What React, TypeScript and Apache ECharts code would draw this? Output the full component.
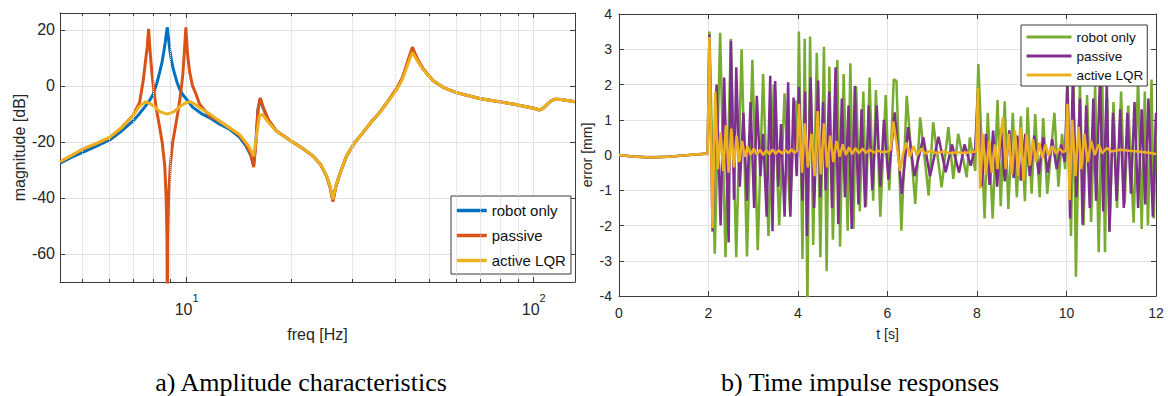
import React, { useEffect, useRef } from 'react';
import * as echarts from 'echarts';

// ---------- a) Amplitude characteristics: [freq Hz, magnitude dB] ----------
const ampRobotOnly: [number, number][] = [
  [4.32, -27.6], [4.7, -25.3], [5, -23.8], [5.5, -21.5], [6, -19.3], [6.5, -16.1], [7, -12.6], [7.25, -10.5],
  [7.5, -8.2], [7.75, -6], [8, -3.2], [8.2, 0.8], [8.36, 4.8], [8.5, 8.6], [8.59, 12], [8.68, 15.6], [8.75, 19.1],
  [8.8, 20.9], [8.87, 16.7], [8.95, 12.6], [9.03, 9.5], [9.13, 6.6], [9.24, 4.2], [9.38, 1.3], [9.55, -1.2],
  [9.75, -3.2], [10, -4.8], [10.4, -7.6], [11, -9.8], [11.65, -11.4], [12.45, -13.7], [13.3, -15.5], [14.2, -18.3],
  [14.8, -21.3], [15.3, -24.8], [15.6, -28.2], [15.85, -19], [16.05, -8.5], [16.3, -4.6], [16.6, -7.8],
  [17.2, -12.3], [18.1, -16], [20, -19.7], [21.5, -22.2], [23.1, -25], [24.3, -28], [25.3, -32.2], [25.9, -36],
  [26.4, -41], [26.9, -36], [27.7, -31], [28.9, -25], [30.4, -20.5], [32.2, -16.7], [34, -13], [36, -9.5],
  [38, -5.5], [40.2, -1.3], [41.8, 2.6], [43, 7], [44.7, 13.1], [46.3, 9], [48, 6], [51.3, 1.8], [55, -0.6],
  [59.9, -2.4], [69.8, -4.5], [87.1, -6.5], [100, -8], [104, -8.6], [106.5, -8], [108.8, -6.9], [112, -5.4],
  [115, -4.8], [120, -4.9], [125, -5.2], [131.5, -5.7],
];
const ampPassive: [number, number][] = [
  [4.32, -27.1], [4.7, -24.6], [5, -22.8], [5.5, -20.6], [6, -18.5], [6.5, -14.9], [7, -10.6], [7.32, -5.9],
  [7.5, 2], [7.6, 8], [7.7, 14], [7.77, 20.3], [7.85, 12], [7.95, 4], [8.05, -2], [8.2, -9], [8.36, -14.7],
  [8.5, -20], [8.65, -28.6], [8.73, -40], [8.78, -55], [8.8, -95], [8.82, -55], [8.87, -40], [8.97, -28.6],
  [9.12, -20], [9.28, -14.7], [9.45, -9], [9.62, -2.4], [9.75, 4], [9.85, 12], [9.95, 20.9], [10.05, 12],
  [10.2, 5], [10.4, 0], [10.6, -2.4], [10.9, -6.6], [11.65, -10.8], [12.45, -12.6], [13.3, -15], [14.2, -17.7],
  [14.8, -20.6], [15.3, -24.5], [15.6, -29], [15.85, -20], [16.05, -8.5], [16.3, -4.3], [16.6, -7.5],
  [17.2, -12], [18.1, -16], [20, -19.7], [21.5, -22.2], [23.1, -25], [24.3, -28], [25.3, -32.2], [25.9, -36.2],
  [26.4, -41.3], [26.9, -36], [27.7, -31], [28.9, -25], [30.4, -20.5], [32.2, -16.7], [34, -13], [36, -9.5],
  [38, -5.5], [40.2, -1.1], [41.8, 2.8], [43, 7.5], [44.7, 13.8], [46.3, 9.5], [48, 6.1], [51.3, 1.8],
  [55, -0.6], [59.9, -2.4], [69.8, -4.5], [87.1, -6.5], [100, -8], [104, -8.6], [106.5, -8], [108.8, -6.9],
  [112, -5.4], [115, -4.8], [120, -4.9], [125, -5.2], [131.5, -5.7],
];
const ampActiveLqr: [number, number][] = [
  [4.32, -27.1], [4.7, -24.6], [5, -22.6], [5.5, -20.5], [6, -18.4], [6.5, -14.9], [7, -10.7], [7.3, -7.4],
  [7.62, -5.7], [7.85, -6.3], [8.1, -7.6], [8.4, -9.3], [8.8, -10.1], [9.2, -9.2], [9.6, -7.2], [10, -5.9],
  [10.27, -5.7], [10.55, -6.5], [10.9, -7.8], [11.65, -10], [12.45, -12.6], [13.3, -15], [14.2, -17.3],
  [15.1, -21.5], [15.6, -25.1], [15.9, -18], [16.2, -10.8], [16.5, -10.1], [17.2, -13], [18.1, -16.1],
  [20, -19.7], [21.5, -22.2], [23.1, -25], [24.3, -28], [25.3, -32], [25.9, -35.8], [26.4, -40.5], [26.9, -35.8],
  [27.7, -31], [28.9, -25], [30.4, -20.5], [32.2, -16.7], [34, -13], [36, -9.6], [38, -5.6], [40.2, -1.6],
  [41.8, 2.2], [43, 6.4], [44.7, 12], [46.3, 8.8], [48, 5.8], [51.3, 1.8], [55, -0.6], [59.9, -2.4],
  [69.8, -4.5], [87.1, -6.5], [100, -8], [104, -8.6], [106.5, -8], [108.8, -6.9], [112, -5.4], [115, -4.8],
  [120, -4.9], [125, -5.2], [131.5, -5.7],
];
const minorFreqs = [5, 6, 7, 8, 9, 20, 30, 40, 50, 60, 70, 80, 90];

// ---------- b) Time impulse responses: [t s, error mm] ----------
const respRobotOnly: [number, number][] = [
  [0, 0], [0.3, -0.04], [0.7, -0.07], [1.1, -0.05], [1.5, -0.01], [1.98, 0.04],
  [2.02, 3.5], [2.14, -2.8], [2.26, 3.47], [2.38, -2.9], [2.5, 3.3], [2.62, -2.9], [2.74, 3.0], [2.86, -2.88],
  [2.98, 2.7], [3.1, -2.7], [3.22, 2.3], [3.34, -2.3], [3.46, 2.0], [3.58, -2.0], [3.7, 1.75], [3.82, -1.6],
  [3.94, 1.55], [3.99, 0.2],
  [4.02, 3.5], [4.1, -2.95], [4.15, 3.3], [4.21, -4.3], [4.27, 3.36], [4.34, -2.55], [4.42, 2.9], [4.5, -2.9],
  [4.58, 3.07], [4.64, -3.3], [4.7, 2.5], [4.78, -2.4], [4.88, 2.7], [4.94, -2.6], [5.02, 2.3], [5.11, -2.15],
  [5.17, 2.6], [5.24, -2.1], [5.3, 1.95], [5.38, -1.6], [5.46, 1.8], [5.52, -1.45], [5.6, 2.2], [5.68, -1.3],
  [5.74, 1.84], [5.84, -1.75], [5.96, 1.7], [6.04, -1.0], [6.14, 2.15], [6.2, 2.1], [6.31, -2.15], [6.43, 1.68],
  [6.62, -1.39], [6.73, 1.07], [6.92, -1.15], [7.02, 0.93], [7.21, -0.92], [7.36, 0.79], [7.47, -0.68],
  [7.58, 0.6], [7.77, -0.63], [7.84, 0.5], [7.96, -0.45],
  [8.03, 2.58], [8.17, -1.8], [8.24, 1.2], [8.35, -1.8], [8.46, 1.56], [8.53, -1.45], [8.62, 1.52], [8.7, -1.53],
  [8.8, 1.2], [8.89, -1.2], [8.98, 1.1], [9.07, -1.31], [9.13, 1.35], [9.22, -1.1], [9.3, 1.16], [9.4, -1.2],
  [9.48, 1.05], [9.57, -1.1], [9.73, 1.2], [9.82, -0.9], [9.9, 0.6], [9.97, -0.4],
  [10.02, 2.3], [10.1, -2.3], [10.16, 2.0], [10.21, -3.45], [10.3, 2.06], [10.38, -2.0], [10.46, 1.7],
  [10.55, -1.9], [10.64, 1.97], [10.72, -2.76], [10.8, 2.1], [10.86, -2.76], [10.91, 1.6], [10.96, -2.16],
  [11.05, 1.5], [11.13, -1.5], [11.22, 1.8], [11.3, -1.4], [11.38, 1.4], [11.5, -1.92], [11.6, 2.18],
  [11.68, -2.1], [11.75, 1.8], [11.82, -2.0], [11.9, 2.14], [11.95, -1.8], [12.0, 0.8],
];
const respPassive: [number, number][] = [
  [0, 0], [0.3, -0.04], [0.7, -0.07], [1.1, -0.05], [1.5, -0.01], [1.98, 0.04],
  [2.02, 3.42], [2.09, -2.17], [2.18, 2.0], [2.27, -2.0], [2.35, 2.2], [2.45, -2.48], [2.5, 3.24], [2.57, -1.27],
  [2.62, 2.49], [2.7, -0.9], [2.78, 1.2], [2.86, -1.3], [2.94, 1.5], [3.02, -1.5], [3.08, 1.68], [3.16, -0.6],
  [3.22, 0.6], [3.3, -1.75], [3.38, 2.25], [3.43, -2.16], [3.49, 2.1], [3.56, -0.9], [3.62, 0.88], [3.7, -1.75],
  [3.78, 2.06], [3.83, -1.75], [3.9, 1.63], [3.97, -0.6],
  [4.02, 1.93], [4.1, -1.3], [4.16, 1.8], [4.2, -2.3], [4.28, 2.2], [4.36, -1.5], [4.45, 2.11], [4.5, -1.2],
  [4.56, 1.5], [4.62, -1.0], [4.7, 1.8], [4.76, -1.5], [4.84, 2.49], [4.9, -1.96], [4.98, 1.6], [5.05, -1.2],
  [5.13, 1.4], [5.2, -2.1], [5.27, 1.96], [5.35, -1.4], [5.42, 1.3], [5.5, -1.49], [5.58, 1.4], [5.66, -1.0],
  [5.76, 1.4], [5.84, -0.9], [5.92, 1.0], [6.02, -0.7], [6.16, 1.21], [6.32, -1.1], [6.46, 0.79], [6.6, -0.6],
  [6.8, 0.5], [6.95, -0.6], [7.14, 0.52], [7.3, -0.49], [7.44, 0.3], [7.6, -0.5], [7.72, 0.3], [7.86, -0.3],
  [7.96, 0.2],
  [8.02, 1.75], [8.1, -0.9], [8.2, 0.6], [8.28, -0.85], [8.36, 0.69], [8.45, -0.9], [8.54, 0.75], [8.62, -0.75],
  [8.72, 0.7], [8.82, -0.65], [8.9, 0.55], [8.98, -0.73], [9.08, 0.6], [9.18, -0.6], [9.28, 0.55], [9.38, -0.55],
  [9.48, 0.5], [9.58, -0.5], [9.68, 0.45], [9.78, -0.4], [9.88, 0.3], [9.96, -0.2],
  [10.02, 2.0], [10.08, -1.8], [10.14, 2.2], [10.22, -1.2], [10.3, 1.6], [10.36, -1.98], [10.44, 1.4],
  [10.52, -1.5], [10.6, 1.6], [10.66, -1.3], [10.75, 2.29], [10.82, -1.6], [10.9, 2.0], [10.96, -2.18],
  [11.04, 1.2], [11.12, -1.3], [11.2, 1.3], [11.28, -1.5], [11.36, 1.2], [11.44, -1.1], [11.52, 1.5],
  [11.6, -1.5], [11.68, 1.3], [11.76, -1.4], [11.83, 1.6], [11.93, -1.75], [12.0, 1.2],
];
const respActiveLqr: [number, number][] = [
  [0, 0], [0.3, -0.04], [0.7, -0.07], [1.1, -0.05], [1.5, -0.01], [1.98, 0.04],
  [2.02, 3.35], [2.09, -2.08], [2.15, 1.8], [2.21, -0.4], [2.27, 0.65], [2.33, -0.45], [2.39, 0.85], [2.45, -0.5],
  [2.51, 0.75], [2.57, -0.35], [2.63, 0.55], [2.69, -0.2], [2.75, 0.4], [2.81, -0.05], [2.87, 0.25], [2.94, 0.0],
  [3.01, 0.18], [3.08, 0.02], [3.15, 0.15], [3.22, 0.0], [3.29, 0.14], [3.36, 0.02], [3.43, 0.16], [3.5, 0.03],
  [3.57, 0.14], [3.64, 0.04], [3.71, 0.15], [3.78, 0.05], [3.85, 0.16], [3.92, 0.06], [3.98, 0.12],
  [4.02, 1.45], [4.09, -0.5], [4.15, 0.9], [4.22, -0.35], [4.3, 0.6], [4.37, -0.6], [4.44, 1.25], [4.51, -0.55],
  [4.58, 0.9], [4.65, -0.35], [4.72, 0.55], [4.79, -0.2], [4.86, 0.4], [4.93, -0.05], [5.0, 0.3], [5.07, 0.0],
  [5.14, 0.22], [5.21, 0.02], [5.28, 0.2], [5.36, 0.05], [5.44, 0.18], [5.52, 0.06], [5.6, 0.15], [5.7, 0.07],
  [5.8, 0.12], [5.9, 0.08], [6.0, 0.1], [6.07, 0.15],
  [6.13, 0.95], [6.2, 0.35], [6.28, -0.45], [6.35, 0.05], [6.42, 0.35], [6.5, -0.05], [6.58, 0.25], [6.66, 0.0],
  [6.75, 0.18], [6.85, 0.04], [6.95, 0.12], [7.1, 0.05], [7.25, 0.1], [7.4, 0.05], [7.55, 0.08], [7.7, 0.06],
  [7.85, 0.08], [7.98, 0.1],
  [8.02, 1.9], [8.07, -0.95], [8.13, 0.6], [8.2, -0.55], [8.27, 0.4], [8.33, -0.5], [8.4, 0.3], [8.46, -0.4],
  [8.52, 0.5], [8.58, 1.07], [8.64, -0.4], [8.71, 0.6], [8.78, -0.55], [8.85, 0.7], [8.92, -0.6], [8.98, 0.78],
  [9.04, -0.72], [9.11, 0.6], [9.18, -0.3], [9.25, 0.45], [9.32, -0.2], [9.39, 0.35], [9.46, -0.1], [9.53, 0.3],
  [9.6, -0.02], [9.68, 0.25], [9.76, 0.05], [9.84, 0.18], [9.92, 0.08], [9.98, 0.12],
  [10.02, 1.45], [10.07, -1.28], [10.13, 1.0], [10.2, -0.6], [10.27, 0.8], [10.33, -0.4], [10.4, 0.6],
  [10.47, -0.2], [10.55, 0.4], [10.63, 0.0], [10.72, 0.3], [10.8, 0.05], [10.9, 0.2], [11.0, 0.1], [11.2, 0.15],
  [11.4, 0.12], [11.6, 0.1], [11.8, 0.07], [12.0, 0.03],
];

const seriesNames = ['robot only', 'passive', 'active LQR'];
const captionA = 'a) Amplitude characteristics';
const captionB = 'b) Time impulse responses';

const FONT = '"Liberation Sans", Arial, Helvetica, sans-serif';
const SERIF = '"Liberation Serif", "Times New Roman", Times, serif';
const AX = '#3c3c3c';
const TXT = '#262626';
const GRID = '#e2e2e2';
const MINOR = '#d4d4d4';
const BLUE = '#0072BD', ORANGE = '#D95319', YELLOW = '#EDB120', GREEN = '#77AC30', PURPLE = '#7E2F8E';

const FMIN = 4.317, FMAX = 131.5, DBMIN = -70, DBMAX = 26;

export default function App() {
  const ref = useRef<HTMLDivElement>(null);
  useEffect(() => {
    if (!ref.current) return;
    const chart = echarts.init(ref.current, null, { renderer: 'svg' });

    const minorLines = minorFreqs.map((f) => ({ xAxis: f }));
    const minorTicks: any[] = [];
    minorFreqs.forEach((f) => {
      minorTicks.push([{ coord: [f, DBMIN] }, { coord: [f, DBMIN + 1.1] }]);
      minorTicks.push([{ coord: [f, DBMAX] }, { coord: [f, DBMAX - 1.1] }]);
    });

    const axisLineStyle = { show: true, onZero: false, lineStyle: { color: AX, width: 1 } };
    const hiddenAxisBase = {
      axisLine: axisLineStyle,
      axisTick: { show: true, inside: true, length: 5, lineStyle: { color: AX } },
      axisLabel: { show: false },
      splitLine: { show: false },
    };

    const legendItem = (name: string, color: string, width: number) => ({
      name, itemStyle: { color, opacity: 0 }, lineStyle: { color, width, type: 'solid' },
    });

    const lineSeries = (name: string, data: any, color: string, width: number, xi: number, yi: number) => ({
      name, type: 'line', xAxisIndex: xi, yAxisIndex: yi, data,
      symbol: 'none', showSymbol: false, lineStyle: { color, width }, itemStyle: { color }, z: 2,
    });

    const option: any = {
      animation: false,
      backgroundColor: '#fff',
      grid: [
        { left: 60, top: 13, width: 515, height: 269, containLabel: false, outerBoundsMode: 'none' },
        { left: 619, top: 14, width: 537, height: 282, containLabel: false, outerBoundsMode: 'none' },
      ],
      xAxis: [
        {
          gridIndex: 0, type: 'log', logBase: 10, min: FMIN, max: FMAX, position: 'bottom',
          axisLine: axisLineStyle,
          axisTick: { show: true, inside: true, length: 5, lineStyle: { color: AX } },
          splitLine: { show: true, lineStyle: { color: GRID, width: 1 } },
          axisLabel: {
            margin: 10,
            formatter: (v: number) => {
              const e = Math.log10(v);
              const r = Math.round(e);
              if (Math.abs(e - r) > 1e-6) return '';
              return `{b|10}{s|${r}}`;
            },
            rich: {
              b: { fontSize: 16, fontFamily: FONT, color: TXT, lineHeight: 25, verticalAlign: 'bottom' },
              s: { fontSize: 11, fontFamily: FONT, color: TXT, lineHeight: 11, verticalAlign: 'top' },
            },
          },
          name: 'freq [Hz]', nameLocation: 'middle', nameGap: 44,
          nameTextStyle: { fontSize: 16, fontFamily: FONT, color: TXT },
        },
        { gridIndex: 0, type: 'log', logBase: 10, min: FMIN, max: FMAX, position: 'top', ...hiddenAxisBase },
        {
          gridIndex: 1, type: 'value', min: 0, max: 12, interval: 2, position: 'bottom',
          axisLine: axisLineStyle,
          axisTick: { show: true, inside: true, length: 5, lineStyle: { color: AX } },
          splitLine: { show: true, lineStyle: { color: GRID, width: 1 } },
          axisLabel: { margin: 10, fontSize: 14, fontFamily: FONT, color: TXT },
          name: 't [s]', nameLocation: 'middle', nameGap: 31,
          nameTextStyle: { fontSize: 14, fontFamily: FONT, color: TXT },
        },
        { gridIndex: 1, type: 'value', min: 0, max: 12, interval: 2, position: 'top', ...hiddenAxisBase },
      ],
      yAxis: [
        {
          gridIndex: 0, type: 'value', min: DBMIN, max: DBMAX, position: 'left',
          axisLine: axisLineStyle,
          axisTick: { show: true, inside: true, length: 5, lineStyle: { color: AX } },
          splitLine: { show: true, lineStyle: { color: GRID, width: 1 } },
          axisLabel: {
            margin: 5, fontSize: 16, fontFamily: FONT, color: TXT,
            formatter: (v: number) => (Math.abs(v % 20) < 1e-9 && v > DBMIN && v < DBMAX ? String(v) : ''),
          },
          name: 'magnitude [dB]', nameLocation: 'middle', nameGap: 32,
          nameTextStyle: { fontSize: 16, fontFamily: FONT, color: TXT },
        },
        { gridIndex: 0, type: 'value', min: DBMIN, max: DBMAX, position: 'right', ...hiddenAxisBase },
        {
          gridIndex: 1, type: 'value', min: -4, max: 4, interval: 1, position: 'left',
          axisLine: axisLineStyle,
          axisTick: { show: true, inside: true, length: 5, lineStyle: { color: AX } },
          splitLine: { show: true, lineStyle: { color: GRID, width: 1 } },
          axisLabel: { margin: 7, fontSize: 14, fontFamily: FONT, color: TXT },
          name: 'error [mm]', nameLocation: 'middle', nameGap: 25,
          nameTextStyle: { fontSize: 14, fontFamily: FONT, color: TXT },
        },
        { gridIndex: 1, type: 'value', min: -4, max: 4, interval: 1, position: 'right', ...hiddenAxisBase },
      ],
      legend: [
        {
          data: [legendItem(seriesNames[0], BLUE, 3.5), legendItem(seriesNames[1], ORANGE, 3.5), legendItem(seriesNames[2], YELLOW, 3.5)],
          orient: 'vertical', left: 451, top: 196, itemWidth: 30, itemHeight: 14, itemGap: 10,
          padding: [7, 5, 6, 4], backgroundColor: '#fff', borderColor: '#3a3a3a', borderWidth: 1, borderRadius: 0,
          selectedMode: false,
          textStyle: { fontSize: 15, fontFamily: FONT, color: '#111' },
        },
        {
          data: [legendItem(seriesNames[0], GREEN, 3), legendItem(seriesNames[1], PURPLE, 3), legendItem(seriesNames[2], YELLOW, 3)],
          orient: 'vertical', left: 1021, top: 25, itemWidth: 45, itemHeight: 13, itemGap: 5,
          padding: [5, 4, 4, 4], backgroundColor: '#fff', borderColor: '#3a3a3a', borderWidth: 1, borderRadius: 0,
          selectedMode: false,
          textStyle: { fontSize: 13.5, fontFamily: FONT, color: '#111' },
        },
      ],
      graphic: [
        {
          type: 'text', x: 301, y: 382, silent: true,
          style: { text: captionA, fontSize: 26, fontFamily: SERIF, fill: '#000', align: 'center', verticalAlign: 'middle' },
        },
        {
          type: 'text', x: 860, y: 382, silent: true,
          style: { text: captionB, fontSize: 26, fontFamily: SERIF, fill: '#000', align: 'center', verticalAlign: 'middle' },
        },
      ],
      series: [
        {
          type: 'line', xAxisIndex: 0, yAxisIndex: 0, data: [], silent: true, z: 1,
          markLine: {
            silent: true, symbol: ['none', 'none'], label: { show: false },
            lineStyle: { color: MINOR, type: 'dotted', width: 1 },
            data: minorLines,
          },
        },
        {
          type: 'line', xAxisIndex: 0, yAxisIndex: 0, data: [], silent: true, z: 1,
          markLine: {
            silent: true, symbol: ['none', 'none'], label: { show: false },
            lineStyle: { color: AX, type: 'solid', width: 1 },
            data: minorTicks,
          },
        },
        lineSeries(seriesNames[0], ampRobotOnly, BLUE, 3, 0, 0),
        lineSeries(seriesNames[1], ampPassive, ORANGE, 3, 0, 0),
        lineSeries(seriesNames[2], ampActiveLqr, YELLOW, 3, 0, 0),
        lineSeries(seriesNames[0], respRobotOnly, GREEN, 2.5, 2, 2),
        lineSeries(seriesNames[1], respPassive, PURPLE, 2.5, 2, 2),
        lineSeries(seriesNames[2], respActiveLqr, YELLOW, 2.5, 2, 2),
      ],
    };
    chart.setOption(option);
    return () => chart.dispose();
  }, []);
  return <div ref={ref} style={{ position: 'absolute', left: 0, top: 0, width: 1168, height: 396 }} />;
}
